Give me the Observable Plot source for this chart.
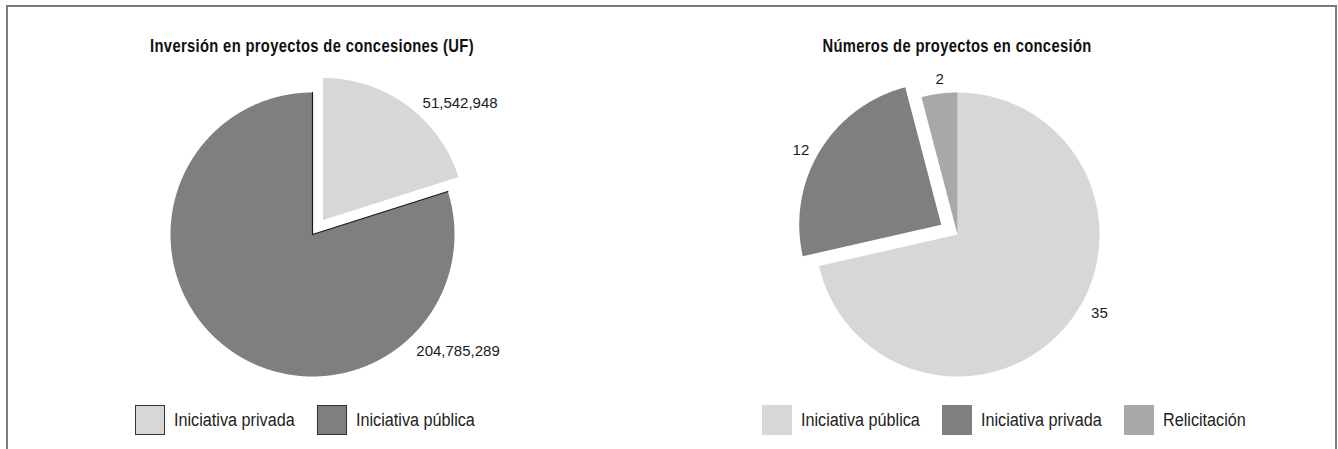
<!DOCTYPE html>
<html>
<head>
<meta charset="utf-8">
<script src="https://cdn.jsdelivr.net/npm/d3@7"></script>
<script src="https://cdn.jsdelivr.net/npm/@observablehq/plot@0.6"></script>
<style>
  html, body { margin: 0; padding: 0; background: #fff; }
  body { width: 1338px; height: 449px; overflow: hidden; position: relative;
         font-family: "Liberation Sans", Arial, sans-serif; color: #1a1a1a; }
  #frame { position: absolute; left: 6px; top: 5px; width: 1327px; height: 470px;
           border: 2px solid #7a7a7a; border-bottom: none; }
  .title { position: absolute; top: 36px; line-height: 20px; font-size: 18px; font-weight: bold;
           transform: translateX(-50%) scaleX(0.82); transform-origin: center; white-space: nowrap;
           letter-spacing: 0.4px; color: #111; }
  .chart { position: absolute; }
  .sw { position: absolute; top: 405px; width: 30px; height: 30px; box-sizing: border-box; }
  .lbl { position: absolute; top: 405px; line-height: 30px; font-size: 18px; color: #222;
         white-space: nowrap; transform: scaleX(0.9); transform-origin: left center; }
</style>
</head>
<body>
<div id="frame"></div>
<script>
// ---- Data ----
const investTitle = "Inversión en proyectos de concesiones (UF)";
const investCategories = ["Iniciativa privada", "Iniciativa pública"];
const investValues = [51542948, 204785289];

const countTitle = "Números de proyectos en concesión";
const countCategories = ["Iniciativa pública", "Iniciativa privada", "Relicitación"];
const countValues = [35, 12, 2];

// ---- Layout / style ----
const R = 142;            // pie radius in px
const SVG_W = 400, SVG_H = 340;
const panels = [
  {
    title: investTitle, categories: investCategories, values: investValues,
    cx: 311.5, cy: 233.5,
    colors: ["#d7d7d7", "#7f7f7f"],
    explode: "Iniciativa privada", explodePx: 18,
    edgeSlice: "Iniciativa pública",
    labelPos: [{angle: 48.3, r: 1.392}, {angle: 128.7, r: 1.313}],
    legendLeft: 135, legendBorder: "1px solid #333"
  },
  {
    title: countTitle, categories: countCategories, values: countValues,
    cx: 957, cy: 234,
    colors: ["#d7d7d7", "#7f7f7f", "#a8a8a8"],
    explode: "Iniciativa privada", explodePx: 19,
    edgeSlice: null,
    labelPos: [{angle: 119.1, r: 1.144}, {angle: 298.2, r: 1.251}, {angle: 353.4, r: 1.099}],
    legendLeft: 762, legendBorder: "none"
  }
];

const fmt = d3.format(",");
const DEG = Math.PI / 180;

function buildPanel(p) {
  const arcs = d3.pie().sort(null)(p.values);
  const polys = [];
  const edges = [];
  arcs.forEach((a, i) => {
    const cat = p.categories[i];
    const mid = (a.startAngle + a.endAngle) / 2;
    const off = cat === p.explode ? p.explodePx / R : 0;
    const ox = off * Math.sin(mid), oy = off * Math.cos(mid);
    polys.push({key: i, cat, x: ox, y: oy});
    const n = Math.max(2, Math.ceil((a.endAngle - a.startAngle) / 0.005));
    for (let k = 0; k <= n; k++) {
      const t = a.startAngle + (a.endAngle - a.startAngle) * k / n;
      polys.push({key: i, cat, x: ox + Math.sin(t), y: oy + Math.cos(t)});
    }
    if (cat === p.edgeSlice) {
      edges.push({x: ox + Math.sin(a.startAngle), y: oy + Math.cos(a.startAngle)});
      edges.push({x: ox, y: oy});
      edges.push({x: ox + Math.sin(a.endAngle), y: oy + Math.cos(a.endAngle)});
    }
  });
  const labels = p.values.map((v, i) => ({
    text: fmt(v),
    x: p.labelPos[i].r * Math.sin(p.labelPos[i].angle * DEG),
    y: p.labelPos[i].r * Math.cos(p.labelPos[i].angle * DEG)
  }));

  const chart = Plot.plot({
    width: SVG_W, height: SVG_H, margin: 0,
    x: {domain: [-SVG_W / 2 / R, SVG_W / 2 / R], axis: null},
    y: {domain: [-SVG_H / 2 / R, SVG_H / 2 / R], axis: null},
    color: {domain: p.categories, range: p.colors},
    style: {background: "transparent", overflow: "visible"},
    marks: [
      Plot.line(polys, {x: "x", y: "y", z: "key", fill: "cat", stroke: "none", curve: "linear"}),
      Plot.line(edges, {x: "x", y: "y", stroke: "#1a1a1a", strokeWidth: 1.2, curve: "linear"}),
      Plot.text(labels, {x: "x", y: "y", text: "text", fill: "#1a1a1a", fontSize: 15,
        fontFamily: "Liberation Sans, Arial, sans-serif"})
    ]
  });
  chart.classList.add("chart");
  chart.style.left = (p.cx - SVG_W / 2) + "px";
  chart.style.top = (p.cy - SVG_H / 2) + "px";
  document.body.appendChild(chart);

  const t = document.createElement("div");
  t.className = "title";
  t.style.left = p.cx + "px";
  t.textContent = p.title;
  document.body.appendChild(t);

  let x = p.legendLeft;
  p.categories.forEach((c, i) => {
    const sw = document.createElement("div");
    sw.className = "sw";
    sw.style.left = x + "px";
    sw.style.background = p.colors[i];
    sw.style.border = p.legendBorder;
    document.body.appendChild(sw);
    const lb = document.createElement("span");
    lb.className = "lbl";
    lb.style.left = (x + 39) + "px";
    lb.textContent = c;
    document.body.appendChild(lb);
    x += 39 + lb.getBoundingClientRect().width + 22;
  });
}

panels.forEach(buildPanel);
</script>
</body>
</html>
